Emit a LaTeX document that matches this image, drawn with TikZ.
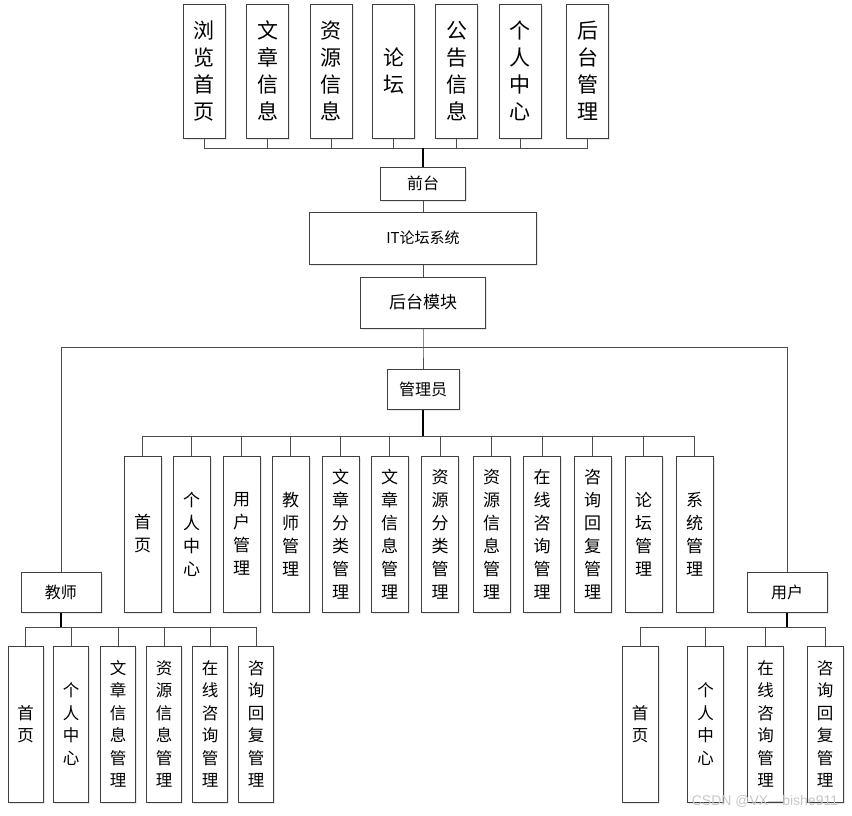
\documentclass[tikz,border=0pt]{standalone}
\usepackage{fontspec}
\newfontfamily\cjk{Noto Sans CJK SC}
\setmainfont{Liberation Sans}
\usetikzlibrary{shadows}
\begin{document}
\begin{tikzpicture}[x=1pt,y=-1pt,
  box/.style={draw=black!75, line width=1pt, fill=white, inner sep=0pt, align=center,
    drop shadow={opacity=0.18, shadow xshift=1.5pt, shadow yshift=-1.5pt}},
  topbox/.style={box, minimum width=42pt, minimum height=134pt, font=\cjk\fontsize{21}{27}\selectfont},
  midbox/.style={box, minimum width=37pt, minimum height=156pt, font=\cjk\fontsize{17}{23}\selectfont},
  lowbox/.style={box, minimum width=35pt, minimum height=156pt, font=\cjk\fontsize{16.5}{22.5}\selectfont},
  hbox/.style={box, font=\cjk\fontsize{16}{20}\selectfont},
  ln/.style={draw=black!70, line width=0.9pt},
  trunk/.style={draw=black, line width=1.8pt}]
\useasboundingbox (0,0) rectangle (852,815);

% top row
\node[topbox] (t1) at (204,71) {浏\\览\\首\\页};
\node[topbox] (t2) at (267.5,71) {文\\章\\信\\息};
\node[topbox] (t3) at (331,71) {资\\源\\信\\息};
\node[topbox] (t4) at (393.5,71) {论\\坛};
\node[topbox] (t5) at (456.5,71) {公\\告\\信\\息};
\node[topbox] (t6) at (520,71) {个\\人\\中\\心};
\node[topbox] (t7) at (587.5,71) {后\\台\\管\\理};

\node[hbox, minimum width=85pt, minimum height=33pt] (qt) at (423,183.5) {前台};
\node[hbox, minimum width=227pt, minimum height=52pt, font=\cjk\fontsize{15}{18}\selectfont] (it) at (423,238) {IT论坛系统};
\node[hbox, minimum width=125pt, minimum height=51pt, font=\cjk\fontsize{17}{20}\selectfont] (ht) at (423,302.5) {后台模块};
\node[hbox, minimum width=72pt, minimum height=40pt] (gly) at (423,389) {管理员};
\node[hbox, minimum width=80pt, minimum height=40pt] (js) at (61,592) {教师};
\node[hbox, minimum width=80pt, minimum height=40pt] (yh) at (787,592) {用户};

% admin children
\node[midbox] (a1) at (142.5,534) {首\\页};
\node[midbox] (a2) at (191.5,534) {个\\人\\中\\心};
\node[midbox] (a3) at (241.5,534) {用\\户\\管\\理};
\node[midbox] (a4) at (290.5,534) {教\\师\\管\\理};
\node[midbox] (a5) at (340.5,534) {文\\章\\分\\类\\管\\理};
\node[midbox] (a6) at (389.5,534) {文\\章\\信\\息\\管\\理};
\node[midbox] (a7) at (440,534) {资\\源\\分\\类\\管\\理};
\node[midbox] (a8) at (491.5,534) {资\\源\\信\\息\\管\\理};
\node[midbox] (a9) at (542,534) {在\\线\\咨\\询\\管\\理};
\node[midbox] (a10) at (592.5,534) {咨\\询\\回\\复\\管\\理};
\node[midbox] (a11) at (643.5,534) {论\\坛\\管\\理};
\node[midbox] (a12) at (694.5,534) {系\\统\\管\\理};

% teacher children
\node[lowbox] (j1) at (25.5,724) {首\\页};
\node[lowbox] (j2) at (71,724) {个\\人\\中\\心};
\node[lowbox] (j3) at (118,724) {文\\章\\信\\息\\管\\理};
\node[lowbox] (j4) at (164,724) {资\\源\\信\\息\\管\\理};
\node[lowbox] (j5) at (210,724) {在\\线\\咨\\询\\管\\理};
\node[lowbox] (j6) at (256,724) {咨\\询\\回\\复\\管\\理};

% user children
\node[lowbox, minimum width=36pt] (u1) at (640,724) {首\\页};
\node[lowbox, minimum width=36pt] (u2) at (705.5,724) {个\\人\\中\\心};
\node[lowbox, minimum width=36pt] (u3) at (765.5,724) {在\\线\\咨\\询\\管\\理};
\node[lowbox, minimum width=36pt] (u4) at (825,724) {咨\\询\\回\\复\\管\\理};

% coordinates
\coordinate (busT) at (423,148);
\coordinate (split) at (423,347);
\coordinate (busA) at (423,436);
\coordinate (busJ) at (61,627);
\coordinate (busU) at (787,627);

% top connectors
\foreach \n in {t1,t2,t3,t4,t5,t6,t7} \draw[ln] (\n.south) |- (busT);
\draw[trunk] (busT) -- (qt.north);
\draw[ln] (qt.south) -- (it.north);
\draw[ln] (it.south) -- (ht.north);
\draw[ln] (ht.south) -- (split) -- (gly.north);
\draw[ln] (split) -| (js.north);
\draw[ln] (split) -| (yh.north);

% admin connectors
\foreach \n in {a1,a2,a3,a4,a5,a6,a7,a8,a9,a10,a11,a12} \draw[ln] (\n.north) |- (busA);
\draw[trunk] (gly.south) -- (busA);

% teacher connectors
\foreach \n in {j1,j2,j3,j4,j5,j6} \draw[ln] (\n.north) |- (busJ);
\draw[trunk] (js.south) -- (busJ);

% user connectors
\foreach \n in {u1,u2,u3,u4} \draw[ln] (\n.north) |- (busU);
\draw[trunk] (yh.south) -- (busU);

\node[text=black!22, font=\fontsize{14}{16}\selectfont, inner sep=0pt] (wm) at (765,801) {CSDN @VX—bishe911};
\end{tikzpicture}
\end{document}
